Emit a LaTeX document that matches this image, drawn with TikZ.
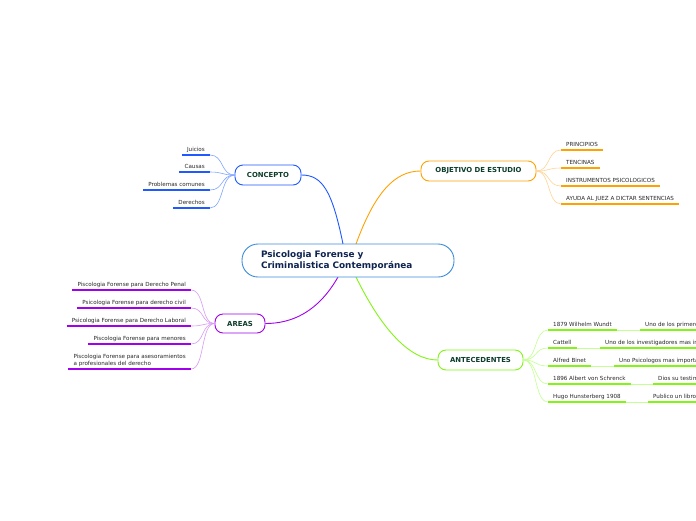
\documentclass[tikz,border=0pt]{standalone}
\usepackage{fontspec}
\setmainfont{DejaVu Sans}
\definecolor{cblue}{RGB}{60,140,220}
\definecolor{kblue}{RGB}{30,90,255}
\definecolor{kbluel}{RGB}{130,165,255}
\definecolor{korange}{RGB}{255,162,0}
\definecolor{korangel}{RGB}{255,212,150}
\definecolor{kpurple}{RGB}{160,0,235}
\definecolor{kpurplel}{RGB}{215,155,245}
\definecolor{kgreen}{RGB}{130,245,20}
\definecolor{kgreenl}{RGB}{195,255,145}
\definecolor{ntext}{RGB}{12,60,42}
\definecolor{ctext}{RGB}{15,35,80}
\definecolor{ltext}{RGB}{40,40,40}
\tikzset{
  x=1pt,y=-1pt,
  central/.style={draw=cblue,line width=0.9pt,fill=white,rounded corners=16pt,
    minimum width=212pt,minimum height=33pt,text width=174pt,inner xsep=19pt,
    align=left,font=\fontsize{8.9}{10.5}\selectfont\bfseries,text=ctext},
  topic/.style={draw=#1,line width=0.9pt,fill=white,rounded corners=8pt,
    minimum height=20pt,font=\fontsize{6.9}{8}\selectfont\bfseries,text=ntext},
  leaf/.style={inner xsep=5pt,inner ysep=2.2pt,text height=4pt,text depth=1pt,
    font=\fontsize{5.6}{7}\selectfont,text=ltext},
  uline/.style={line width=1.4pt,draw=#1},
  mainc/.style={line width=0.9pt,draw=#1},
  leafc/.style={line width=0.6pt,draw=#1},
}
\begin{document}
\begin{tikzpicture}
\useasboundingbox (0,0) rectangle (696,520);
\clip (0,0) rectangle (696,520);
\fill[white] (0,0) rectangle (696,520);

\coordinate (cn1) at (343,244);
\coordinate (cn2) at (356,244);
\coordinate (cs1) at (338,277);
\coordinate (cs2) at (356,277);

\node[topic=kblue,minimum width=66pt] (con) at (268,175) {CONCEPTO};
\node[topic=korange,minimum width=115pt] (obj) at (478.5,171) {OBJETIVO DE ESTUDIO};
\node[topic=kpurple,minimum width=50pt,minimum height=19pt] (are) at (240,323.5) {AREAS};
\node[topic=kgreen,minimum width=85pt] (ant) at (480.5,360) {ANTECEDENTES};

\draw[mainc=kblue] (cn1) .. controls (332,190) and (322,175) .. (con.east);
\draw[mainc=korange] (cn2) .. controls (375,192) and (395,171) .. (obj.west);
\draw[mainc=kpurple] (cs1) .. controls (318,312) and (292,323.5) .. (are.east);
\draw[mainc=kgreen] (cs2) .. controls (382,330) and (410,360) .. (ant.west);

\node[central] (c) at (348,260.5) {Psicologia Forense y\\Criminalistica Contemporánea};

% CONCEPTO leaves
\foreach \n/\y/\t in {k1/155/Juicios,k2/172/Causas,k3/190/Problemas comunes,k4/208/Derechos}{
  \node[leaf,anchor=south east] (\n) at (210,\y) {\t};
  \draw[uline=kblue] (\n.south west) -- (\n.south east);
  \draw[leafc=kbluel] (con.west) .. controls +(-14,0) and +(14,0) .. (\n.south east);
}

% OBJETIVO leaves
\foreach \n/\y/\t in {o1/150/PRINCIPIOS,o2/168/TENCINAS,o3/186/INSTRUMENTOS PSICOLOGICOS,o4/204/AYUDA AL JUEZ A DICTAR SENTENCIAS}{
  \node[leaf,anchor=south west] (\n) at (561,\y) {\t};
  \draw[uline=korange] (\n.south west) -- (\n.south east);
  \draw[leafc=korangel] (obj.east) .. controls +(14,0) and +(-14,0) .. (\n.south west);
}

% AREAS leaves
\foreach \n/\y/\t in {a1/290/Piscologia Forense para Derecho Penal,a2/308/Psicologia Forense para derecho civil,a3/326/Psicologia Forense para Derecho Laboral,a4/344/Piscologia Forense para menores}{
  \node[leaf,anchor=south east] (\n) at (191,\y) {\t};
  \draw[uline=kpurple] (\n.south west) -- (\n.south east);
  \draw[leafc=kpurplel] (are.west) .. controls +(-14,0) and +(14,0) .. (\n.south east);
}
\node[inner xsep=5pt,inner ysep=2.2pt,font=\fontsize{5.6}{7}\selectfont,text=ltext,anchor=south east,align=left] (a5) at (191,369) {Piscologia Forense para asesoramientos\\a profesionales del derecho};
\draw[uline=kpurple] (a5.south west) -- (a5.south east);
\draw[leafc=kpurplel] (are.west) .. controls +(-14,0) and +(14,0) .. (a5.south east);

% ANTECEDENTES leaves
\foreach \n/\y/\t/\x/\u in {
  h1/330/1879 Wilhelm Wundt/640/Uno de los primeros,
  h2/348/Cattell/600/Uno de los investigadores mas importantes,
  h3/366/Alfred Binet/614/Uno Psicologos mas importantes,
  h4/384/1896 Albert von Schrenck/653/Dios su testimonio,
  h5/402/Hugo Hunsterberg 1908/648/Publico un libro}{
  \node[leaf,anchor=south west] (\n) at (548,\y) {\t};
  \draw[uline=kgreen] (\n.south west) -- (\n.south east);
  \draw[leafc=kgreenl] (ant.east) .. controls +(14,0) and +(-14,0) .. (\n.south west);
  \node[leaf,anchor=south west] (\n b) at (\x,\y) {\u};
  \draw[uline=kgreen] (\n b.south west) -- +(120,0);
  \draw[leafc=kgreenl] (\n.south east) -- (\n b.south west);
}
\end{tikzpicture}
\end{document}
